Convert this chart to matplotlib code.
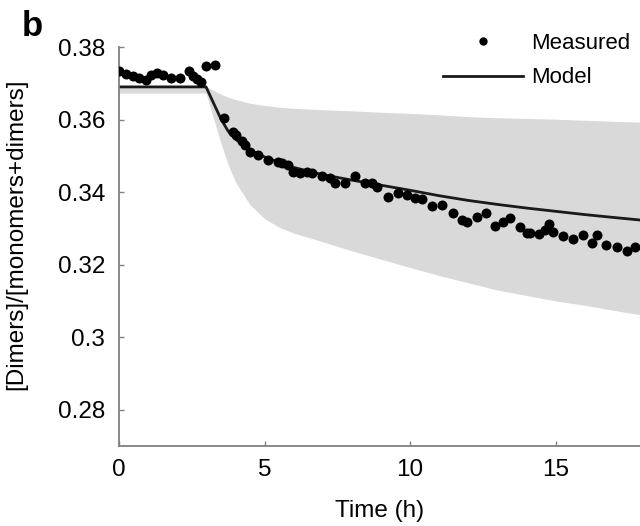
import matplotlib
matplotlib.use("Agg")
import matplotlib.pyplot as plt
from matplotlib.lines import Line2D

plt.rcParams['font.family'] = ['Liberation Sans', 'DejaVu Sans']

# Measured data (time in h, ratio)
meas_t = [0.0, 0.24, 0.48, 0.69, 0.93, 1.10, 1.31, 1.51, 1.79, 2.10, 2.41, 2.54, 2.68, 2.82,
          2.99, 3.30, 3.61, 3.92, 4.02, 4.23, 4.33, 4.50, 4.78, 5.12, 5.46, 5.60, 5.81, 5.98,
          6.22, 6.46, 6.63, 6.98, 7.25, 7.42, 7.77, 8.11, 8.45, 8.69, 8.87, 9.24, 9.59, 9.90,
          10.17, 10.41, 10.76, 11.10, 11.48, 11.79, 11.96, 12.30, 12.61, 12.92, 13.20, 13.44,
          13.78, 14.02, 14.12, 14.43, 14.64, 14.78, 14.91, 15.26, 15.60, 15.95, 16.25, 16.43,
          16.74, 17.11, 17.46, 17.73]
meas_y = [0.3734, 0.3726, 0.3720, 0.3715, 0.3709, 0.3723, 0.3728, 0.3723, 0.3715, 0.3715,
          0.3734, 0.3720, 0.3712, 0.3704, 0.3748, 0.3750, 0.3604, 0.3566, 0.3558, 0.3541,
          0.3530, 0.3511, 0.3502, 0.3489, 0.3483, 0.3480, 0.3475, 0.3456, 0.3453, 0.3456,
          0.3453, 0.3445, 0.3439, 0.3425, 0.3425, 0.3445, 0.3425, 0.3425, 0.3414, 0.3387,
          0.3398, 0.3392, 0.3384, 0.3381, 0.3362, 0.3365, 0.3343, 0.3323, 0.3318, 0.3332,
          0.3343, 0.3307, 0.3318, 0.3329, 0.3304, 0.3288, 0.3288, 0.3285, 0.3296, 0.3312,
          0.3290, 0.3279, 0.3271, 0.3282, 0.3260, 0.3282, 0.3255, 0.3249, 0.3238, 0.3249]

# Model and its uncertainty band
model_t = [0.0, 2.99, 3.25, 3.5, 3.75, 4.0, 4.5, 5.0, 5.5, 6.0, 7.0, 8.0, 9.0, 10.0, 11.0,
           12.0, 13.0, 14.0, 15.0, 16.0, 17.0, 17.9]
model_y = [0.369, 0.369, 0.3645, 0.3602, 0.3568, 0.3546, 0.3516, 0.3497, 0.3482, 0.3468,
           0.3448, 0.3433, 0.3419, 0.3405, 0.3390, 0.3377, 0.3366, 0.3356, 0.3347, 0.3338,
           0.3330, 0.3323]
band_hi = [0.3692, 0.3692, 0.3680, 0.3670, 0.3662, 0.3655, 0.3645, 0.3639, 0.3634, 0.3631,
           0.3627, 0.3624, 0.3620, 0.3617, 0.3613, 0.3608, 0.3605, 0.3603, 0.3601, 0.3598,
           0.3595, 0.3593]
band_lo = [0.3673, 0.3673, 0.3602, 0.3535, 0.3476, 0.3428, 0.3365, 0.3327, 0.3303, 0.3287,
           0.3263, 0.3238, 0.3215, 0.3192, 0.3170, 0.3150, 0.3130, 0.3115, 0.3100, 0.3088,
           0.3074, 0.3062]

x_ticks = [0, 5, 10, 15]
y_ticks = [0.28, 0.30, 0.32, 0.34, 0.36, 0.38]
y_tick_labels = ['0.28', '0.3', '0.32', '0.34', '0.36', '0.38']

fig = plt.figure(figsize=(6.4, 5.26), dpi=100)
ax = fig.add_axes([119/640, 1 - 446/526, 1 - 119/640, (446 - 47)/526])

ax.fill_between(model_t, band_lo, band_hi, color='#d9d9d9', linewidth=0, zorder=1)
ax.plot(model_t, model_y, color='#1a1a1a', lw=2.0, zorder=2)
ax.plot(meas_t, meas_y, 'o', color='black', ms=7.2, mew=0, zorder=3)

ax.set_xlim(0, 17.9)
ax.set_ylim(0.27, 0.38)
ax.set_xticks(x_ticks)
ax.set_yticks(y_ticks)
ax.set_yticklabels(y_tick_labels)

for s in ['top', 'right']:
    ax.spines[s].set_visible(False)
for s in ['left', 'bottom']:
    ax.spines[s].set_color('#808080')
    ax.spines[s].set_linewidth(1.3)
ax.tick_params(direction='in', length=3.5, width=1.0, color='#808080',
               labelsize=17.5, labelcolor='black')
ax.tick_params(axis='y', pad=10)
ax.tick_params(axis='x', pad=9)

ax.set_xlabel('Time (h)', fontsize=17.5, labelpad=14)
ax.set_ylabel('[Dimers]/[monomers+dimers]', fontsize=17.5)
ax.yaxis.set_label_coords(-0.177, 0.53)

handles = [Line2D([], [], marker='o', ls='none', color='black', ms=6, mew=0),
           Line2D([], [], color='#1a1a1a', lw=2.0)]
fig.legend(handles, ['Measured', 'Model'], loc='upper right',
           bbox_to_anchor=(630/640, 1 - 33/526), frameon=False, fontsize=16,
           handlelength=3.6, handletextpad=0.35, labelspacing=0.6, borderaxespad=0,
           borderpad=0)

fig.text(22/640, 1 - 36/526, 'b', fontsize=25, fontweight='bold', va='baseline')

fig.savefig('out.png', dpi=100)
